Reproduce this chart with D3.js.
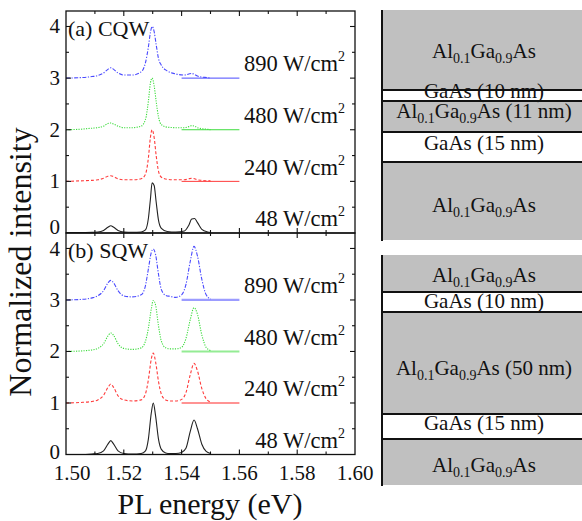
<!DOCTYPE html>
<html>
<head>
<meta charset="utf-8">
<script src="https://cdn.jsdelivr.net/npm/d3@7"></script>
<style>
    body { margin: 0; background: #fff; }
    svg text, svg tspan { font-family: "Liberation Serif", "DejaVu Serif", Times, serif; fill: #111; }
</style>
</head>
<body>
<svg id="chart" width="582" height="521" font-family="Liberation Serif, serif"></svg>
<script>
// energies (eV) sampled for each panel
var energyCQW = [1.500, 1.505, 1.509, 1.511, 1.513, 1.5145, 1.5155, 1.5165, 1.518, 1.520, 1.523, 1.526, 1.5275, 1.5285, 1.5292, 1.5298, 1.5305, 1.5312, 1.532, 1.533, 1.535, 1.538, 1.541, 1.5425, 1.5435, 1.5445, 1.5455, 1.547, 1.549, 1.550];
var energySQW = [1.500, 1.505, 1.509, 1.511, 1.513, 1.5145, 1.5155, 1.5165, 1.518, 1.520, 1.523, 1.526, 1.5275, 1.5285, 1.5295, 1.5302, 1.531, 1.532, 1.533, 1.5345, 1.536, 1.538, 1.540, 1.5415, 1.543, 1.5443, 1.5455, 1.547, 1.5485, 1.550];

var powers = ["48", "240", "480", "890"];

// normalized spectra (before vertical offset)
var cqw48 = [0.01, 0.01, 0.015, 0.02, 0.05, 0.11, 0.14, 0.11, 0.05, 0.02, 0.015, 0.02, 0.06, 0.28, 0.65, 0.97, 0.92, 0.6, 0.25, 0.09, 0.03, 0.02, 0.04, 0.15, 0.27, 0.28, 0.2, 0.07, 0.02, 0.01];
var cqw240 = [0.0, 0.01, 0.02, 0.03, 0.06, 0.10, 0.11, 0.09, 0.05, 0.03, 0.03, 0.05, 0.14, 0.45, 0.85, 1.0, 0.85, 0.5, 0.2, 0.08, 0.04, 0.03, 0.03, 0.05, 0.06, 0.05, 0.03, 0.02, 0.01, 0.01];
var cqw480 = [0.0, 0.01, 0.03, 0.04, 0.07, 0.12, 0.13, 0.11, 0.07, 0.04, 0.04, 0.07, 0.2, 0.55, 0.9, 1.0, 0.85, 0.55, 0.25, 0.1, 0.05, 0.04, 0.04, 0.06, 0.08, 0.07, 0.04, 0.02, 0.01, 0.0];
var cqw890 = [0.0, 0.01, 0.03, 0.05, 0.1, 0.17, 0.2, 0.17, 0.1, 0.06, 0.06, 0.12, 0.3, 0.6, 0.88, 1.0, 0.9, 0.65, 0.38, 0.25, 0.14, 0.08, 0.06, 0.08, 0.09, 0.07, 0.04, 0.02, 0.01, 0.0];

var sqw48 = [0.0, 0.0, 0.01, 0.02, 0.07, 0.2, 0.27, 0.2, 0.07, 0.02, 0.01, 0.02, 0.07, 0.3, 0.8, 1.0, 0.75, 0.3, 0.1, 0.03, 0.02, 0.02, 0.04, 0.12, 0.45, 0.67, 0.5, 0.2, 0.06, 0.02];
var sqw240 = [0.0, 0.01, 0.03, 0.06, 0.15, 0.3, 0.37, 0.3, 0.14, 0.06, 0.04, 0.06, 0.18, 0.45, 0.85, 0.97, 0.8, 0.42, 0.17, 0.06, 0.04, 0.04, 0.07, 0.2, 0.55, 0.77, 0.62, 0.28, 0.08, 0.02];
var sqw480 = [0.0, 0.01, 0.03, 0.06, 0.15, 0.3, 0.36, 0.31, 0.15, 0.06, 0.04, 0.07, 0.2, 0.45, 0.82, 0.99, 0.9, 0.5, 0.2, 0.07, 0.05, 0.05, 0.08, 0.25, 0.62, 0.85, 0.72, 0.32, 0.08, 0.02];
var sqw890 = [0.0, 0.01, 0.04, 0.08, 0.18, 0.33, 0.38, 0.33, 0.18, 0.08, 0.06, 0.1, 0.28, 0.6, 0.92, 0.99, 0.88, 0.5, 0.2, 0.09, 0.07, 0.05, 0.1, 0.3, 0.75, 1.04, 0.85, 0.4, 0.1, 0.02];

var xTicks = [1.50, 1.52, 1.54, 1.56, 1.58, 1.60];
var yTicks = [0, 1, 2, 3, 4];

var layersCQW = [
    {name: ["Al", "0.1", "Ga", "0.9", "As"], fill: "#c0c0c0"},
    {name: ["GaAs (10 nm)"], fill: "#fff"},
    {name: ["Al", "0.1", "Ga", "0.9", "As (11 nm)"], fill: "#c0c0c0"},
    {name: ["GaAs (15 nm)"], fill: "#fff"},
    {name: ["Al", "0.1", "Ga", "0.9", "As"], fill: "#c0c0c0"}
];
var layersSQW = [
    {name: ["Al", "0.1", "Ga", "0.9", "As"], fill: "#c0c0c0"},
    {name: ["GaAs (10 nm)"], fill: "#fff"},
    {name: ["Al", "0.1", "Ga", "0.9", "As (50 nm)"], fill: "#c0c0c0"},
    {name: ["GaAs (15 nm)"], fill: "#fff"},
    {name: ["Al", "0.1", "Ga", "0.9", "As"], fill: "#c0c0c0"}
];

(function () {
    var svg = d3.select("#chart");
    var font = "'Liberation Serif', 'DejaVu Serif', serif";
    var left = 66, right = 355;
    var styles = [
        {color: "#222", dash: null},
        {color: "#ff3b3b", dash: "3,2"},
        {color: "#3ddc3d", dash: "1.2,1.3"},
        {color: "#4a4aff", dash: "4,1.5,1.2,1.5"}
    ];

    var x = d3.scaleLinear().domain([1.50, 1.60]).range([left, right]);

    var panels = [
        {top: 11, bottom: 233, label: "(a) CQW", energy: energyCQW, series: [cqw48, cqw240, cqw480, cqw890], labelY: 36, baseW: 1, baseOp: 1},
        {top: 233, bottom: 454.5, label: "(b) SQW", energy: energySQW, series: [sqw48, sqw240, sqw480, sqw890], labelY: 258, baseW: 2.2, baseOp: 0.55}
    ];

    panels.forEach(function (p, pi) {
        var y = d3.scaleLinear().domain([0, 4.3]).range([p.bottom, p.top]);
        var g = svg.append("g");

        var line = d3.line()
            .x(function (d) { return x(d[0]); })
            .y(function (d) { return y(d[1]); })
            .curve(d3.curveMonotoneX);

        p.series.forEach(function (vals, i) {
            var pts = p.energy.map(function (e, k) { return [e, vals[k] + i]; });
            if (i > 0) {
                // flat solid segment on the offset level
                g.append("line")
                    .attr("x1", x(1.54)).attr("x2", x(1.56))
                    .attr("y1", y(i)).attr("y2", y(i))
                    .attr("stroke", styles[i].color)
                    .attr("stroke-width", p.baseW)
                    .attr("stroke-opacity", p.baseOp);
            }
            g.append("path")
                .datum(pts)
                .attr("d", line)
                .attr("fill", "none")
                .attr("stroke", styles[i].color)
                .attr("stroke-width", 1.1)
                .attr("stroke-dasharray", styles[i].dash);

            var t = g.append("text")
                .attr("x", 345)
                .attr("y", y(i + 0.13))
                .attr("text-anchor", "end")
                .style("font-family", font)
                .style("font-size", "22.5px");
            t.append("tspan").text(powers[i] + " W/cm");
            t.append("tspan").attr("dy", -10).style("font-size", "14px").text("2");
        });

        // frame
        g.append("rect")
            .attr("x", left).attr("y", p.top)
            .attr("width", right - left).attr("height", p.bottom - p.top)
            .attr("fill", "none").attr("stroke", "#111").attr("stroke-width", 1.3);

        // inward ticks on all four sides
        var xMinor = d3.range(1.51, 1.6, 0.02);
        var tick = g.append("g").attr("stroke", "#111").attr("stroke-width", 1.1);
        xTicks.slice(1, -1).forEach(function (v) {
            tick.append("line").attr("x1", x(v)).attr("x2", x(v)).attr("y1", p.bottom).attr("y2", p.bottom - 5);
            tick.append("line").attr("x1", x(v)).attr("x2", x(v)).attr("y1", p.top).attr("y2", p.top + 5);
        });
        xMinor.forEach(function (v) {
            tick.append("line").attr("x1", x(v)).attr("x2", x(v)).attr("y1", p.bottom).attr("y2", p.bottom - 3);
            tick.append("line").attr("x1", x(v)).attr("x2", x(v)).attr("y1", p.top).attr("y2", p.top + 3);
        });
        d3.range(0.5, 4.3, 0.5).forEach(function (v) {
            var len = v % 1 === 0 ? 5 : 3;
            tick.append("line").attr("x1", left).attr("x2", left + len).attr("y1", y(v)).attr("y2", y(v));
            tick.append("line").attr("x1", right).attr("x2", right - len).attr("y1", y(v)).attr("y2", y(v));
        });

        g.selectAll("text.ylab")
            .data(yTicks)
            .enter().append("text")
            .attr("class", "ylab")
            .attr("x", 60)
            .attr("y", function (d) {
                if (d === 0) return y(d) + (pi === 0 ? 1 : 4);
                if (d === 4 && pi === 1) return y(d) + 8;
                return y(d) + 7;
            })
            .attr("text-anchor", "end")
            .style("font-family", font)
            .style("font-size", "21px")
            .text(function (d) { return d; });

        g.append("text")
            .attr("x", 68).attr("y", p.labelY)
            .style("font-family", font)
            .style("font-size", "22px")
            .text(p.label);
    });

    svg.selectAll("text.xlab")
        .data(xTicks)
        .enter().append("text")
        .attr("class", "xlab")
        .attr("x", function (d, i) { return x(d) + (i === 0 ? 6 : 0); })
        .attr("y", 480)
        .attr("text-anchor", "middle")
        .style("font-family", font)
        .style("font-size", "21px")
        .text(function (d) { return d.toFixed(2); });

    svg.append("text")
        .attr("x", 210).attr("y", 514)
        .attr("text-anchor", "middle")
        .style("font-family", font)
        .style("font-size", "30px")
        .text("PL energy (eV)");

    svg.append("text")
        .attr("transform", "translate(31,262) rotate(-90)")
        .attr("text-anchor", "middle")
        .style("font-family", font)
        .style("font-size", "32px")
        .text("Normalized intensity");

    // layer structures
    function drawStack(layers, bounds, baselines) {
        var sx = 382, ex = 582;
        var g = svg.append("g");
        layers.forEach(function (l, i) {
            g.append("rect")
                .attr("x", sx).attr("y", bounds[i])
                .attr("width", ex - sx).attr("height", bounds[i + 1] - bounds[i])
                .attr("fill", l.fill);
        });
        bounds.slice(1, -1).forEach(function (b) {
            g.append("line")
                .attr("x1", sx).attr("x2", ex).attr("y1", b).attr("y2", b)
                .attr("stroke", "#111").attr("stroke-width", 1.8);
        });
        g.append("line")
            .attr("x1", sx).attr("x2", sx).attr("y1", bounds[0]).attr("y2", bounds[bounds.length - 1] + 1)
            .attr("stroke", "#111").attr("stroke-width", 2);
        layers.forEach(function (l, i) {
            var t = g.append("text")
                .attr("x", 484).attr("y", baselines[i])
                .attr("text-anchor", "middle")
                .style("font-family", font)
                .style("font-size", "21px");
            l.name.forEach(function (s, k) {
                var sub = k % 2 === 1;
                t.append("tspan")
                    .attr("dy", sub ? 5 : (k > 0 ? -5 : 0))
                    .style("font-size", sub ? "14px" : "21px")
                    .text(s);
            });
        });
    }

    drawStack(layersCQW, [10, 90, 101, 132, 162, 240], [58, 98, 118, 150, 212]);
    drawStack(layersSQW, [255, 292, 312, 414, 439, 485], [282, 308, 375, 430, 472]);
})();
</script>
</body>
</html>
